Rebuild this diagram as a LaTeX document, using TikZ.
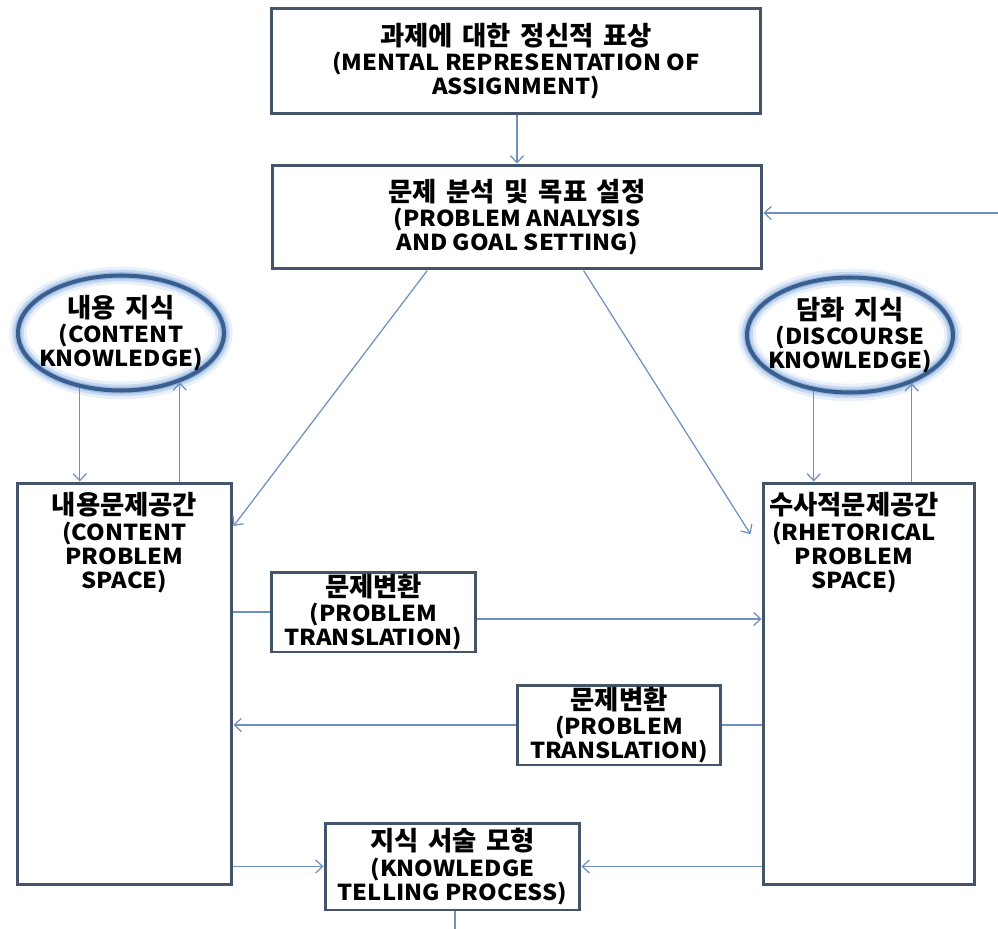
\documentclass[tikz,border=0pt]{standalone}
\usepackage{fontspec}
\setmainfont{Noto Sans CJK KR}[FakeStretch=1.08]
\newfontfamily\kofont{Noto Sans CJK KR}[Scale=1.2, WordSpace=1.6]
\usetikzlibrary{shapes.geometric,arrows.meta,calc}
\definecolor{boxc}{HTML}{44546A}
\definecolor{linkc}{HTML}{6F8FBF}
\definecolor{ellc}{HTML}{3A5F8F}
\definecolor{glowc}{HTML}{6C9BD8}
\begin{document}
\begin{tikzpicture}[x=0.02cm,y=-0.02cm,
	font=\bfseries\fontsize{12.5pt}{13.6pt}\selectfont,
	box/.style={draw=boxc, line width=1.7pt, fill=white, align=center, inner sep=0pt},
	knowbox/.style={ellipse, draw=ellc, line width=2.3pt, inner sep=0pt,
		minimum width=4.12cm, minimum height=2.3cm,
		preaction={draw=glowc, line width=10pt, opacity=.15},
		preaction={draw=glowc, line width=6.5pt, opacity=.28},
		preaction={draw=glowc, line width=3.8pt, opacity=.45}},
	link/.style={draw=linkc, line width=.7pt},
	arr/.style={link, -{Straight Barb[length=4pt,width=7.5pt]}}]
	\fill[white] (0,0) rectangle (998,929);
	\useasboundingbox (0,0) rectangle (998,929);

	\node[box, minimum width=9.8cm, minimum height=2.12cm] (tb) at (516,61)
		{{\kofont 과제에 대한 정신적 표상}\\[1pt](MENTAL REPRESENTATION OF\\ASSIGNMENT)};
	\node[box, minimum width=9.8cm, minimum height=2.08cm] (pa) at (517,217)
		{{\kofont 문제 분석 및 목표 설정}\\[1pt](PROBLEM ANALYSIS\\AND GOAL SETTING)};

	\node[knowbox] (ck) at (121,333) {};
	\node[knowbox] (dk) at (850,335) {};
	\node[align=center] (ckt) at (ck) {{\kofont 내용 지식}\\[1pt](CONTENT\\KNOWLEDGE)};
	\node[align=center] (dkt) at (dk) {{\kofont 담화 지식}\\[1pt](DISCOURSE\\KNOWLEDGE)};

	\node[box, minimum width=4.3cm, minimum height=8.04cm] (cps) at (124.5,684) {};
	\node[box, minimum width=4.24cm, minimum height=8.04cm] (rps) at (869,684) {};
	\node[align=center, anchor=north] (cpst) at ($(cps.north)+(0,5)$)
		{{\kofont 내용문제공간}\\[1pt](CONTENT\\PROBLEM\\SPACE)};
	\node[align=center, anchor=north] (rpst) at ($(rps.north)+(-15,5)$)
		{{\kofont 수사적문제공간}\\[1pt](RHETORICAL\\PROBLEM\\SPACE)};

	\node[box, minimum width=4.1cm, minimum height=1.6cm] (pt1) at (373.5,612)
		{{\kofont 문제변환}\\[1pt](PROBLEM\\TRANSLATION)};
	\node[box, minimum width=4.08cm, minimum height=1.6cm] (pt2) at (619,725)
		{{\kofont 문제변환}\\[1pt](PROBLEM\\TRANSLATION)};
	\node[box, minimum width=5.1cm, minimum height=1.74cm] (kt) at (452.5,866.5)
		{{\kofont 지식 서술 모형}\\[1pt](KNOWLEDGE\\TELLING PROCESS)};

	\coordinate (rin) at (998,213);
	\coordinate (kout) at (455,929);

	\draw[arr] (pa.north |- tb.south) -- (pa.north);
	\draw[arr] (rin) -- (rin -| pa.east);
	\draw[arr] ($(pa.south west)!.318!(pa.south east)$) -- ($(cps.north east)!.11!(cps.south east)$);
	\draw[arr] ($(pa.south west)!.635!(pa.south east)$) -- ($(rps.north west)!.13!(rps.south west)+(-11,0)$);

	\draw[arr] (ck.233) -- (ck.233 |- cps.north);
	\draw[arr] (ck.320 |- cps.north) -- (ck.320);
	\draw[arr] (dk.237) -- (dk.237 |- rps.north);
	\draw[arr] (dk.322 |- rps.north) -- (dk.322);

	\draw[link] (cps.east |- pt1.west) -- (pt1.west);
	\draw[arr] ($(pt1.east)+(0,7)$) coordinate (p1o) -- (p1o -| rps.west);
	\draw[link] (rps.west |- pt2.east) -- (pt2.east);
	\draw[arr] (pt2.west) -- (pt2.west -| cps.east);

	\draw[arr] (cps.east |- kt.west) -- (kt.west);
	\draw[arr] (rps.west |- kt.east) -- (kt.east);
	\draw[link] (kt.south -| kout) -- (kout);
\end{tikzpicture}
\end{document}
